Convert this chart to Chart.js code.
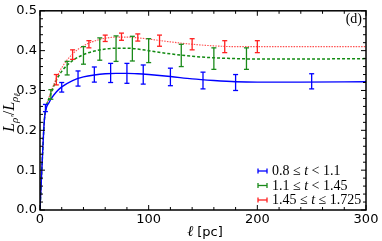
<!DOCTYPE html>
<html>
<head>
<meta charset="utf-8">
<script src="https://cdn.jsdelivr.net/npm/chart.js@4.4.0/dist/chart.umd.min.js"></script>
<style>
  html, body { margin: 0; padding: 0; background: #fff; }
</style>
</head>
<body>
<canvas id="chart" width="382" height="241"></canvas>
<script>
// curve samples
const curveX     = [0, 2, 4, 6, 8, 10, 15, 20, 30, 40, 50, 60, 70, 80, 90, 100, 120, 140, 160, 180, 200, 240, 300];
const blueCurve  = [0, 0.12, 0.225, 0.258, 0.268, 0.278, 0.296, 0.309, 0.325, 0.334, 0.339, 0.342, 0.343, 0.343, 0.342, 0.340, 0.335, 0.329, 0.325, 0.322, 0.321, 0.321, 0.322];
const greenCurve = [0, 0.12, 0.225, 0.262, 0.278, 0.292, 0.325, 0.348, 0.375, 0.390, 0.399, 0.404, 0.406, 0.406, 0.404, 0.400, 0.392, 0.386, 0.382, 0.380, 0.379, 0.379, 0.380];
const redCurve   = [0, 0.12, 0.225, 0.262, 0.280, 0.296, 0.330, 0.357, 0.392, 0.412, 0.424, 0.431, 0.434, 0.434, 0.432, 0.429, 0.422, 0.416, 0.412, 0.410, 0.410, 0.410, 0.410];

// error bars
const blueErrX  = [5, 20, 35, 50, 65, 80, 95, 120, 150, 180, 250];
const blueErrY  = [0.256, 0.308, 0.330, 0.340, 0.344, 0.343, 0.340, 0.334, 0.325, 0.320, 0.323];
const blueErrD  = [0.009, 0.012, 0.019, 0.019, 0.024, 0.025, 0.024, 0.022, 0.021, 0.020, 0.019];
const greenErrX = [10, 25, 40, 55, 70, 85, 100, 130, 160, 190];
const greenErrY = [0.290, 0.356, 0.388, 0.404, 0.405, 0.405, 0.400, 0.388, 0.380, 0.380];
const greenErrD = [0.012, 0.017, 0.022, 0.028, 0.032, 0.031, 0.030, 0.028, 0.027, 0.027];
const redErrX   = [15, 30, 45, 60, 75, 90, 110, 140, 170, 200];
const redErrY   = [0.327, 0.390, 0.416, 0.431, 0.435, 0.433, 0.425, 0.416, 0.410, 0.410];
const redErrD   = [0.013, 0.012, 0.009, 0.008, 0.009, 0.009, 0.014, 0.014, 0.015, 0.015];

const seriesLabels = ['0.8 ≤ t < 1.1', '1.1 ≤ t < 1.45', '1.45 ≤ t ≤ 1.725'];
const xMajorTicks = [0, 100, 200, 300];
const yMajorTicks = [0, 0.1, 0.2, 0.3, 0.4, 0.5];

const BLUE = '#0000ff', GREEN = '#1a8a1a', RED = '#ff2020';

const pts = (xs, ys) => xs.map((x, i) => ({ x, y: ys[i] }));

const series = [
    { curve: blueCurve,  ex: blueErrX,  ey: blueErrY,  ed: blueErrD,  color: BLUE,  lineColor: BLUE,      dash: [],        width: 1.4 },
    { curve: greenCurve, ex: greenErrX, ey: greenErrY, ed: greenErrD, color: GREEN, lineColor: '#118a11', dash: [3, 2],    width: 1.5 },
    { curve: redCurve,   ex: redErrX,   ey: redErrY,   ed: redErrD,   color: RED,   lineColor: '#ff5050', dash: [1.5, 1.2], width: 1.1 }
];

function seg(ctx, x1, y1, x2, y2) {
    ctx.beginPath(); ctx.moveTo(x1, y1); ctx.lineTo(x2, y2); ctx.stroke();
}

// error bars drawn through the scales
const errorBars = {
    id: 'errorBars',
    afterDatasetsDraw(chart) {
        const { ctx, scales: { x, y } } = chart;
        ctx.save();
        ctx.lineWidth = 1.3;
        series.forEach(s => {
            ctx.strokeStyle = s.color;
            s.ex.forEach((v, i) => {
                const px = x.getPixelForValue(v);
                const top = y.getPixelForValue(s.ey[i] + s.ed[i]);
                const bot = y.getPixelForValue(s.ey[i] - s.ed[i]);
                seg(ctx, px, top, px, bot);
                seg(ctx, px - 2.5, top, px + 2.5, top);
                seg(ctx, px - 2.5, bot, px + 2.5, bot);
            });
        });
        ctx.restore();
    }
};

// box frame + inward ticks on all sides, titles, legend, panel tag
const decorations = {
    id: 'decorations',
    afterDraw(chart) {
        const { ctx, chartArea: a, scales: { x, y } } = chart;
        ctx.save();
        ctx.strokeStyle = '#000';
        ctx.lineWidth = 1;
        for (let v = 0; v <= 300; v += 20) {
            const px = x.getPixelForValue(v);
            const len = xMajorTicks.includes(v) ? 5 : 3;
            seg(ctx, px, a.bottom, px, a.bottom - len);
            seg(ctx, px, a.top, px, a.top + len);
        }
        for (let k = 0; k <= 25; k++) {
            const v = k * 0.02;
            const py = y.getPixelForValue(v);
            const len = k % 5 === 0 ? 5 : 3;
            seg(ctx, a.left, py, a.left + len, py);
            seg(ctx, a.right, py, a.right - len, py);
        }
        ctx.lineWidth = 1.5;
        ctx.strokeRect(a.left, a.top, a.right - a.left, a.bottom - a.top);

        ctx.fillStyle = '#000';
        ctx.textBaseline = 'alphabetic';

        // x title: ℓ [pc]
        ctx.font = 'italic 15px "Liberation Serif"';
        const w1 = ctx.measureText('ℓ ').width;
        ctx.font = '13px "DejaVu Sans"';
        const w2 = ctx.measureText('[pc]').width;
        let tx = (a.left + a.right) / 2 - (w1 + w2) / 2 + 2;
        ctx.font = 'italic 15px "Liberation Serif"';
        ctx.fillText('ℓ ', tx, 236);
        ctx.font = '13px "DejaVu Sans"';
        ctx.fillText('[pc]', tx + w1, 236);

        // y title: L_ρ' / L_ρℓ
        ctx.save();
        ctx.translate(14, (a.top + a.bottom) / 2 + 2);
        ctx.rotate(-Math.PI / 2);
        const big = 'italic 16px "Liberation Serif"', small = 'italic 11px "Liberation Serif"';
        const parts = [['L', big, 0], ['ρ′', small, 3.5], ['/', '16px "Liberation Serif"', 0], ['L', big, 0], ['ρ', small, 3.5], ['ℓ', 'italic 9px "Liberation Serif"', 6]];
        let total = 0;
        parts.forEach(p => { ctx.font = p[1]; total += ctx.measureText(p[0]).width; });
        let cx = -total / 2;
        parts.forEach(p => { ctx.font = p[1]; ctx.fillText(p[0], cx, p[2]); cx += ctx.measureText(p[0]).width; });
        ctx.restore();

        // panel tag
        ctx.font = '14px "Liberation Serif"';
        ctx.textAlign = 'right';
        ctx.fillText('(d)', a.right - 4, 23);
        ctx.textAlign = 'left';

        // legend
        const lx = 258, rowY = [175, 189.5, 204];
        series.forEach((s, i) => {
            const yy = rowY[i] - 4;
            ctx.strokeStyle = s.color;
            ctx.lineWidth = 1.3;
            seg(ctx, lx, yy, lx + 9, yy);
            seg(ctx, lx, yy - 2.5, lx, yy + 2.5);
            seg(ctx, lx + 9, yy - 2.5, lx + 9, yy + 2.5);
            let px = lx + 14;
            seriesLabels[i].split(/(t)/).forEach(chunk => {
                ctx.font = chunk === 't' ? 'italic 14px "Liberation Serif"' : '14px "Liberation Serif"';
                ctx.fillText(chunk, px, rowY[i]);
                px += ctx.measureText(chunk).width;
            });
        });
        ctx.restore();
    }
};

new Chart(document.getElementById('chart'), {
    type: 'scatter',
    data: {
        datasets: series.map(s => ({
            data: pts(curveX, s.curve),
            showLine: true,
            borderColor: s.lineColor,
            borderWidth: s.width,
            borderDash: s.dash,
            pointRadius: 0,
            cubicInterpolationMode: 'monotone',
            fill: false
        }))
    },
    options: {
        responsive: false,
        animation: false,
        layout: { padding: { left: 0, right: 16, top: 9, bottom: 0 } },
        plugins: { legend: { display: false }, tooltip: { enabled: false } },
        scales: {
            x: {
                type: 'linear', min: 0, max: 300,
                grid: { display: false, drawTicks: false },
                border: { display: false },
                ticks: { stepSize: 100, padding: 2, color: '#000', font: { family: 'DejaVu Sans', size: 13 } },
                afterFit: sc => { sc.height = 31; }
            },
            y: {
                min: 0, max: 0.5,
                grid: { display: false, drawTicks: false },
                border: { display: false },
                ticks: {
                    stepSize: 0.1, padding: 3, color: '#000',
                    font: { family: 'DejaVu Sans', size: 13 },
                    callback: v => v.toFixed(1)
                },
                afterFit: sc => { sc.width = 40; }
            }
        }
    },
    plugins: [errorBars, decorations]
});
</script>
</body>
</html>
